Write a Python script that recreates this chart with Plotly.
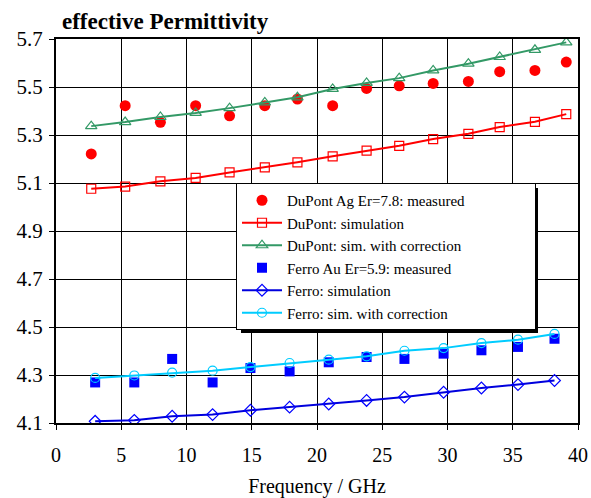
import plotly.graph_objects as go

# DuPont series
dp_x = [2.7, 5.3, 8.0, 10.7, 13.3, 16.0, 18.5, 21.2, 23.8, 26.3, 28.9, 31.6, 34.0, 36.7, 39.1]
dp_meas = [5.221, 5.422, 5.353, 5.422, 5.380, 5.422, 5.450, 5.422, 5.494, 5.505, 5.515, 5.523, 5.564, 5.569, 5.604]
dp_sim = [5.076, 5.085, 5.107, 5.121, 5.144, 5.165, 5.186, 5.211, 5.235, 5.255, 5.283, 5.305, 5.333, 5.355, 5.387]
dp_corr = [5.337, 5.354, 5.375, 5.392, 5.412, 5.436, 5.457, 5.492, 5.517, 5.537, 5.569, 5.597, 5.625, 5.655, 5.686]

# Ferro series
fe_x = [3.0, 6.0, 8.9, 12.0, 14.9, 17.9, 20.9, 23.8, 26.7, 29.7, 32.6, 35.4, 38.2]
fe_meas = [4.269, 4.269, 4.367, 4.269, 4.329, 4.315, 4.353, 4.375, 4.367, 4.389, 4.403, 4.417, 4.451]
fe_sim = [4.107, 4.111, 4.128, 4.135, 4.153, 4.166, 4.179, 4.194, 4.208, 4.228, 4.246, 4.260, 4.277]
fe_corr = [4.288, 4.298, 4.310, 4.318, 4.333, 4.350, 4.364, 4.378, 4.401, 4.412, 4.433, 4.447, 4.471]

names = ["DuPont Ag Er=7.8: measured", "DuPont: simulation", "DuPont: sim. with correction",
         "Ferro Au Er=5.9: measured", "Ferro: simulation", "Ferro: sim. with correction"]

RED = "#FF0000"
GREEN = "#339966"
BLUE = "#0000FF"
DBLUE = "#0000DD"
CYAN = "#00CCFF"

fig = go.Figure()
fig.add_trace(go.Scatter(x=dp_x, y=dp_meas, mode="markers", name=names[0],
                         marker=dict(symbol="circle", size=11, color=RED)))
fig.add_trace(go.Scatter(x=dp_x, y=dp_sim, mode="lines+markers", name=names[1],
                         line=dict(color=RED, width=2),
                         marker=dict(symbol="square-open", size=9, color=RED, line=dict(width=1.2))))
fig.add_trace(go.Scatter(x=dp_x, y=dp_corr, mode="lines+markers", name=names[2],
                         line=dict(color=GREEN, width=2),
                         marker=dict(symbol="triangle-up-open", size=10, color=GREEN, line=dict(width=1.2))))
fig.add_trace(go.Scatter(x=fe_x, y=fe_meas, mode="markers", name=names[3],
                         marker=dict(symbol="square", size=10, color=BLUE)))
fig.add_trace(go.Scatter(x=fe_x, y=fe_sim, mode="lines+markers", name=names[4],
                         line=dict(color=DBLUE, width=2),
                         marker=dict(symbol="diamond-open", size=9, color=BLUE, line=dict(width=1.2))))
fig.add_trace(go.Scatter(x=fe_x, y=fe_corr, mode="lines+markers", name=names[5],
                         line=dict(color=CYAN, width=2),
                         marker=dict(symbol="circle-open", size=9, color=CYAN, line=dict(width=1.2))))

FONT = "Liberation Serif"

# legend drop shadow (decoration, paper coordinates)
fig.add_shape(type="rect", xref="paper", yref="paper",
              x0=(241 - 56) / 522, x1=(538 - 56) / 522,
              y0=1 - (333 - 39) / 384, y1=1 - (188 - 39) / 384,
              fillcolor="black", line=dict(width=0), layer="above")

fig.update_layout(
    width=591, height=498,
    margin=dict(l=56, r=13, t=39, b=75, autoexpand=False),
    paper_bgcolor="white", plot_bgcolor="white",
    font=dict(family=FONT, size=20, color="black"),
    title=dict(text="<b>effective Permittivity</b>", x=62 / 591, xanchor="left",
               y=1 - 21 / 498, yanchor="middle", xref="container", yref="container",
               font=dict(family=FONT, size=23, color="black")),
    showlegend=True,
    legend=dict(x=(236 - 56) / 522, y=1 - (183 - 39) / 384, xanchor="left", yanchor="top",
                orientation="h", entrywidth=243, entrywidthmode="pixels",
                bgcolor="white", bordercolor="black", borderwidth=1,
                font=dict(family=FONT, size=15, color="black"),
                itemwidth=40, tracegroupgap=0),
    xaxis=dict(range=[0, 40], dtick=5, tick0=0, showgrid=True, gridcolor="black", gridwidth=1,
               showline=True, linecolor="black", linewidth=2, mirror=True,
               ticks="outside", ticklen=5, tickcolor="black", zeroline=False,
               ticklabelstandoff=8, automargin=False,
               title=dict(text="Frequency / GHz", font=dict(family=FONT, size=20), standoff=14),
               tickfont=dict(family=FONT, size=20)),
    yaxis=dict(range=[4.1, 5.7], dtick=0.2, tick0=4.1, showgrid=True, gridcolor="black", gridwidth=1,
               showline=True, linecolor="black", linewidth=2, mirror=True,
               ticks="outside", ticklen=5, tickcolor="black", zeroline=False,
               ticklabelstandoff=2, automargin=False,
               tickformat=".1f", tickfont=dict(family=FONT, size=21)),
)

fig.write_html("out.html")
